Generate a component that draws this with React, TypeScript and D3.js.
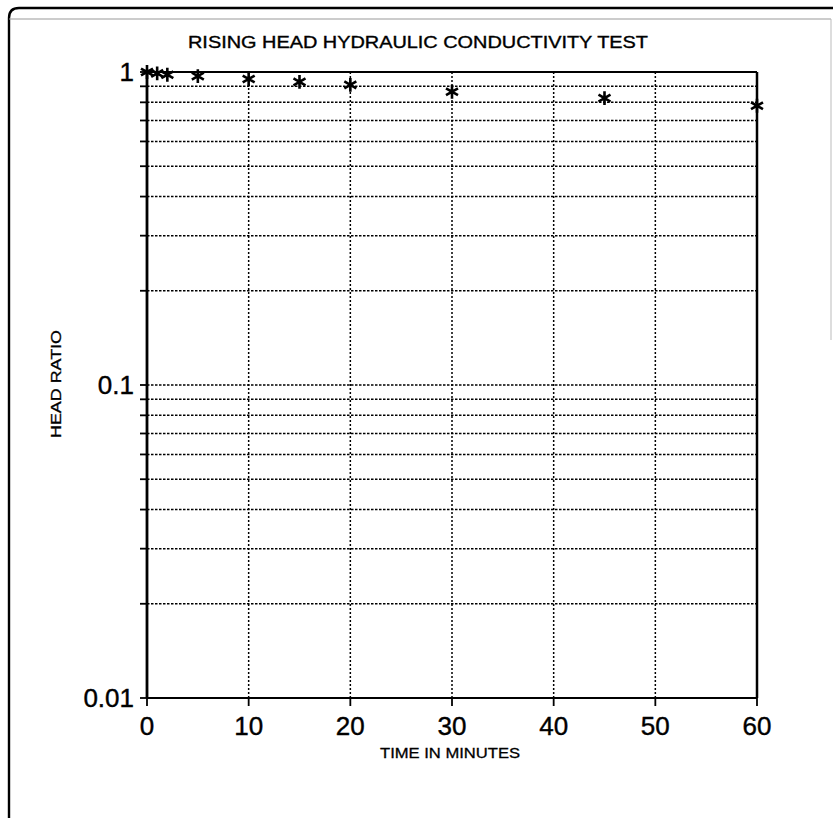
import React from "react";
import * as d3 from "d3";

// Rising head test readings: elapsed time (min) and head ratio H/H0
const timeMinutes = [0, 1, 2, 5, 10, 15, 20, 30, 45, 60];
const headRatio = [1.0, 0.99, 0.98, 0.97, 0.95, 0.93, 0.91, 0.865, 0.825, 0.78];

const xTicks = [0, 10, 20, 30, 40, 50, 60];
const yMajorTicks = [1, 0.1, 0.01];
const yMajorLabels = ["1", "0.1", "0.01"];
const yMinorTicks = [0.9, 0.8, 0.7, 0.6, 0.5, 0.4, 0.3, 0.2, 0.09, 0.08, 0.07, 0.06, 0.05, 0.04, 0.03, 0.02];

const title = "RISING HEAD HYDRAULIC CONDUCTIVITY TEST";
const xTitle = "TIME IN MINUTES";
const yTitle = "HEAD RATIO";

const W = 833;
const H = 818;
const left = 147;
const right = 757;
const top = 72;
const bottom = 698;
const font = "'Liberation Sans', Arial, Helvetica, sans-serif";

export default function App() {
  const x = d3.scaleLinear().domain([0, 60]).range([left, right]);
  const y = d3.scaleLog().domain([0.01, 1]).range([bottom, top]);
  const star = d3.symbol(d3.symbolAsterisk, 135)() as string;
  const gridTicks = [...yMinorTicks, 0.1];

  return (
    <svg
      width={W}
      height={H}
      viewBox={`0 0 ${W} ${H}`}
      style={{ position: "absolute", left: 0, top: 0, background: "#fff" }}
    >
      <rect x={0} y={0} width={W} height={H} fill="#fff" />

      {/* page frame */}
      <path d="M 9 818 L 9 18 Q 9 8 19 8 L 833 8" fill="none" stroke="#000" strokeWidth={2.4} />
      <line x1={9} x2={831} y1={19} y2={19} stroke="#999" strokeWidth={1} />
      <line x1={831} x2={831} y1={19} y2={340} stroke="#bbb" strokeWidth={1} />

      {/* title */}
      <text
        x={418}
        y={48}
        textAnchor="middle"
        fontFamily={font}
        fontSize={16}
        textLength={460}
        lengthAdjust="spacingAndGlyphs"
        stroke="#000"
        strokeWidth={0.35}
      >
        {title}
      </text>

      {/* horizontal grid */}
      {gridTicks.map((v) => (
        <line
          key={"hg" + v}
          x1={left}
          x2={right}
          y1={y(v)}
          y2={y(v)}
          stroke="#000"
          strokeWidth={1.5}
          strokeDasharray="2.5 1.5"
        />
      ))}

      {/* vertical grid */}
      {xTicks.slice(1, -1).map((v) => (
        <line
          key={"vg" + v}
          x1={x(v)}
          x2={x(v)}
          y1={top}
          y2={bottom}
          stroke="#000"
          strokeWidth={1.5}
          strokeDasharray="2 2"
        />
      ))}

      {/* plot frame */}
      <line x1={left} x2={right} y1={top} y2={top} stroke="#000" strokeWidth={2} />
      <line x1={right} x2={right} y1={top} y2={bottom} stroke="#000" strokeWidth={2.5} />
      <line x1={left} x2={right} y1={bottom} y2={bottom} stroke="#000" strokeWidth={2.2} />
      <line x1={left} x2={left} y1={top} y2={bottom} stroke="#000" strokeWidth={2.8} />

      {/* y ticks */}
      {[...yMajorTicks, ...yMinorTicks].map((v) => (
        <line key={"yt" + v} x1={left - 7} x2={left} y1={y(v)} y2={y(v)} stroke="#000" strokeWidth={1.8} />
      ))}
      {yMajorTicks.map((v, i) => (
        <text
          key={"yl" + v}
          x={134}
          y={y(v)}
          dy="0.36em"
          textAnchor="end"
          fontFamily={font}
          fontSize={26}
          stroke="#000"
          strokeWidth={0.4}
        >
          {yMajorLabels[i]}
        </text>
      ))}

      {/* x ticks */}
      {xTicks.map((v) => (
        <g key={"xt" + v}>
          <line x1={x(v)} x2={x(v)} y1={bottom} y2={bottom + 8} stroke="#000" strokeWidth={1.8} />
          <text
            x={x(v)}
            y={735}
            textAnchor="middle"
            fontFamily={font}
            fontSize={26}
            stroke="#000"
            strokeWidth={0.4}
          >
            {v}
          </text>
        </g>
      ))}

      {/* axis titles */}
      <text
        x={450}
        y={758}
        textAnchor="middle"
        fontFamily={font}
        fontSize={15}
        textLength={140}
        lengthAdjust="spacingAndGlyphs"
        stroke="#000"
        strokeWidth={0.3}
      >
        {xTitle}
      </text>
      <text
        transform={`translate(61, 384) rotate(-90)`}
        textAnchor="middle"
        fontFamily={font}
        fontSize={14}
        textLength={108}
        lengthAdjust="spacingAndGlyphs"
        stroke="#000"
        strokeWidth={0.3}
      >
        {yTitle}
      </text>

      {/* data markers */}
      {timeMinutes.map((t, i) => (
        <path
          key={"pt" + t}
          d={star}
          transform={`translate(${x(t)}, ${y(headRatio[i])})`}
          fill="none"
          stroke="#000"
          strokeWidth={2.6}
        />
      ))}
    </svg>
  );
}
